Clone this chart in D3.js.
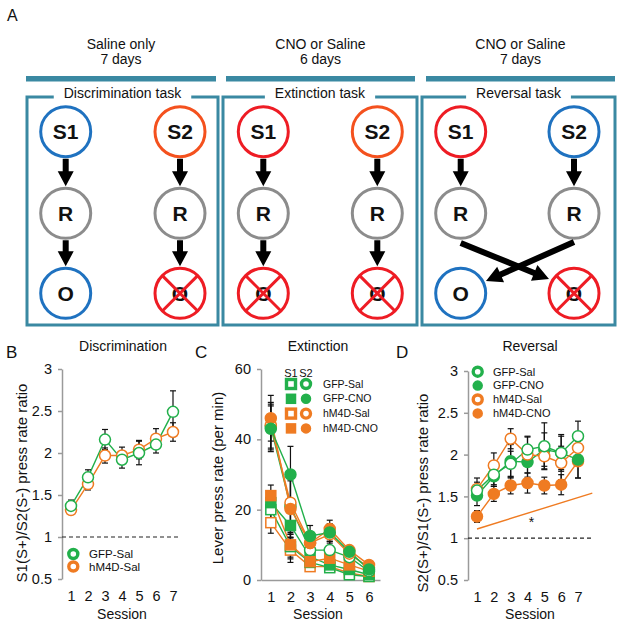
<!DOCTYPE html>
<html lang="en">
<head>
<meta charset="UTF-8">
<title>Discrimination / Extinction / Reversal</title>
<script src="https://d3js.org/d3.v7.min.js"></script>
<style>
  body { margin: 0; background: #fff; }
  text { font-family: "Liberation Sans", Arial, sans-serif; fill: #111; }
</style>
</head>
<body>
<script>
// ---- panel A text ----
const phaseHeaders = [["Saline only", "7 days"], ["CNO or Saline", "6 days"], ["CNO or Saline", "7 days"]];
const taskNames = ["Discrimination task", "Extinction task", "Reversal task"];
const stimColors = [["#1f72c0", "#f4511e"], ["#ee1c24", "#f4511e"], ["#ee1c24", "#1f72c0"]];
// outcome per column: "O" = rewarded (blue), "X" = no outcome
const outcomes = [["O", "X"], ["X", "X"], ["O", "X"]];

// ---- panel B ----
const sessionsB = [1, 2, 3, 4, 5, 6, 7];
const bGfpSal = [1.37, 1.71, 2.16, 1.92, 2.00, 2.10, 2.49];
const bGfpSalErr = [0.07, 0.09, 0.12, 0.10, 0.14, 0.10, 0.25];
const bHm4dSal = [1.32, 1.63, 1.97, 1.97, 2.04, 2.17, 2.25];
const bHm4dSalErr = [0.04, 0.07, 0.09, 0.10, 0.11, 0.12, 0.11];
const ticksB = [0.5, 1, 1.5, 2, 2.5, 3];

// ---- panel C ----
const sessionsC = [1, 2, 3, 4, 5, 6];
const cGfpSalS1 = [20.0, 9.5, 5.0, 3.5, 1.5, 1.0];
const cGfpSalS2 = [43.5, 21.0, 8.5, 8.5, 6.5, 2.5];
const cGfpCnoS1 = [22.0, 15.5, 6.6, 4.3, 3.0, 1.5];
const cGfpCnoS2 = [43.0, 30.0, 12.5, 13.5, 8.0, 3.0];
const cHm4dSalS1 = [16.3, 8.5, 3.8, 3.8, 2.0, 1.0];
const cHm4dSalS2 = [44.0, 22.0, 10.5, 13.0, 7.5, 3.5];
const cHm4dCnoS1 = [24.0, 10.0, 5.2, 6.2, 4.3, 2.5];
const cHm4dCnoS2 = [46.0, 20.2, 10.5, 14.5, 8.5, 4.3];
const cErrS1 = [3.0, 3.5, 1.0, 1.0, 0.8, 0.5];
const cErrS2 = [6.5, 8.0, 3.0, 2.5, 1.0, 0.8];
const ticksC = [0, 20, 40, 60];

// ---- panel D ----
const sessionsD = [1, 2, 3, 4, 5, 6, 7];
const dGfpSal = [1.57, 1.76, 1.89, 2.06, 2.10, 2.02, 2.22];
const dGfpSalErr = [0.10, 0.12, 0.15, 0.15, 0.28, 0.20, 0.18];
const dGfpCno = [1.51, 1.74, 1.92, 1.91, 2.06, 2.02, 1.94];
const dGfpCnoErr = [0.12, 0.12, 0.20, 0.18, 0.20, 0.22, 0.22];
const dHm4dSal = [1.59, 1.87, 2.19, 2.00, 1.98, 1.90, 2.08];
const dHm4dSalErr = [0.13, 0.15, 0.12, 0.22, 0.15, 0.20, 0.15];
const dHm4dCno = [1.26, 1.53, 1.63, 1.66, 1.63, 1.64, 1.92];
const dHm4dCnoErr = [0.07, 0.09, 0.10, 0.12, 0.10, 0.12, 0.20];
const sigLine = [[1, 1.11], [7.85, 1.54]];

const green = "#22b04b", orange = "#ef7b22", teal = "#3a89a2";

const svg = d3.select("body").append("svg")
    .attr("width", 624).attr("height", 627);
svg.append("rect").attr("width", 624).attr("height", 627).attr("fill", "#fff");

// ================= Panel A =================
const gA = svg.append("g");
gA.append("text").attr("x", 7).attr("y", 21).attr("font-size", 16).text("A");

const boxes = [[27, 218], [223, 417], [422, 615]];
const bars = [[26, 216], [226, 415], [426, 615]];
const cols = [[65.7, 180], [263.3, 377.3], [460.7, 574]];
const rowY = [131.7, 213.3, 293.3];
const R = 25;

function arrow(g, x1, y1, x2, y2, sw, hl, hw) {
    const dx = x2 - x1, dy = y2 - y1, len = Math.hypot(dx, dy);
    const ux = dx / len, uy = dy / len, px = -uy, py = ux;
    const bx = x2 - ux * hl, by = y2 - uy * hl;
    const pts = [
        [x1 + px * sw / 2, y1 + py * sw / 2],
        [bx + px * sw / 2, by + py * sw / 2],
        [bx + px * hw / 2, by + py * hw / 2],
        [x2, y2],
        [bx - px * hw / 2, by - py * hw / 2],
        [bx - px * sw / 2, by - py * sw / 2],
        [x1 - px * sw / 2, y1 - py * sw / 2]
    ];
    g.append("polygon").attr("points", pts.map(p => p.join(",")).join(" ")).attr("fill", "#000");
}

function node(g, cx, cy, color, label) {
    g.append("circle").attr("cx", cx).attr("cy", cy).attr("r", R)
        .attr("fill", "#fff").attr("stroke", color).attr("stroke-width", 3);
    g.append("text").attr("x", cx).attr("y", cy).attr("dy", "0.36em")
        .attr("text-anchor", "middle").attr("font-size", 21).attr("font-weight", "bold")
        .text(label);
}

function crossed(g, cx, cy) {
    node(g, cx, cy, "#ee1c24", "O");
    const d = R * 0.707;
    [[-d, -d, d, d], [-d, d, d, -d]].forEach(l => {
        g.append("line").attr("x1", cx + l[0]).attr("y1", cy + l[1])
            .attr("x2", cx + l[2]).attr("y2", cy + l[3])
            .attr("stroke", "#ee1c24").attr("stroke-width", 3);
    });
}

phaseHeaders.forEach((h, i) => {
    const mid = (bars[i][0] + bars[i][1]) / 2;
    gA.append("text").attr("x", mid).attr("y", 49).attr("text-anchor", "middle")
        .attr("font-size", 14).text(h[0]);
    gA.append("text").attr("x", mid).attr("y", 64).attr("text-anchor", "middle")
        .attr("font-size", 14).text(h[1]);
    gA.append("rect").attr("x", bars[i][0]).attr("y", 76)
        .attr("width", bars[i][1] - bars[i][0]).attr("height", 5.5).attr("fill", teal);

    const [x0, x1] = boxes[i];
    const bmid = (x0 + x1) / 2;
    const t = gA.append("text").attr("x", bmid).attr("y", 97.5).attr("text-anchor", "middle")
        .attr("font-size", 14).text(taskNames[i]);
    const tw = t.node().getComputedTextLength();
    const gl = bmid - tw / 2 - 10, gr = bmid + tw / 2 + 10;
    gA.append("path")
        .attr("d", `M${gl},97 H${x0} V325 H${x1} V97 H${gr}`)
        .attr("fill", "none").attr("stroke", teal).attr("stroke-width", 3);

    const g = gA.append("g");
    cols[i].forEach((cx, j) => {
        node(g, cx, rowY[0], stimColors[i][j], "S" + (j + 1));
        node(g, cx, rowY[1], "#8c8c8c", "R");
        arrow(g, cx, rowY[0] + R + 2, cx, rowY[1] - R - 2, 6, 15, 16);
        if (outcomes[i][j] === "O") node(g, cx, rowY[2], "#1f72c0", "O");
        else crossed(g, cx, rowY[2]);
        if (i < 2) arrow(g, cx, rowY[1] + R + 2, cx, rowY[2] - R - 2, 6, 15, 16);
    });
    if (i === 2) {
        arrow(g, cols[2][0], 243, 549, 279, 6, 16, 17);
        arrow(g, cols[2][1], 242, 486, 281, 6, 16, 17);
    }
});

// ================= helpers for plots =================
function yAxis(g, y, x0, ticks, fmt) {
    const ax = g.append("g").attr("transform", `translate(${x0},0)`)
        .call(d3.axisLeft(y).tickValues(ticks).tickSize(4).tickSizeOuter(0)
            .tickPadding(6).tickFormat(fmt));
    ax.select(".domain").attr("stroke", "#9a9a9a").attr("stroke-width", 1.5);
    ax.selectAll(".tick line").attr("stroke", "#9a9a9a").attr("stroke-width", 1.5);
    ax.selectAll("text").attr("font-size", 14.5).attr("fill", "#111")
        .attr("font-family", "Liberation Sans, Arial, sans-serif");
}
function xAxis(g, x, sessions, yPos, withLine) {
    const ax = g.append("g").attr("transform", `translate(0,${yPos})`)
        .call(d3.axisBottom(x).tickValues(sessions).tickSize(0).tickPadding(12)
            .tickFormat(d3.format("d")));
    if (withLine) ax.select(".domain").attr("stroke", "#9a9a9a").attr("stroke-width", 1.5);
    else ax.select(".domain").remove();
    ax.selectAll("text").attr("font-size", 14.5).attr("fill", "#111")
        .attr("font-family", "Liberation Sans, Arial, sans-serif");
}
function label(g, txt, x, y, size, rot) {
    const t = g.append("text").attr("text-anchor", "middle").attr("font-size", size).text(txt);
    if (rot) t.attr("transform", `translate(${x},${y}) rotate(-90)`).attr("dy", "0.35em");
    else t.attr("x", x).attr("y", y);
}
function series(gl, gm, x, y, xs, vals, errs, color, shape, filled) {
    const pts = xs.map((s, i) => [s, vals[i], errs[i]]);
    gl.append("path").datum(pts)
        .attr("d", d3.line().x(d => x(d[0])).y(d => y(d[1])))
        .attr("fill", "none").attr("stroke", color).attr("stroke-width", 1.4);
    pts.forEach(d => {
        const cx = x(d[0]), y1 = y(d[1] + d[2]), y2 = y(Math.max(d[1] - d[2], y.domain()[0]));
        gl.append("line").attr("x1", cx).attr("x2", cx).attr("y1", y1).attr("y2", y2)
            .attr("stroke", "#111").attr("stroke-width", 1.2);
        [y1, y2].forEach(yy => gl.append("line").attr("x1", cx - 3).attr("x2", cx + 3)
            .attr("y1", yy).attr("y2", yy).attr("stroke", "#111").attr("stroke-width", 1.2));
    });
    pts.forEach(d => {
        const cx = x(d[0]), cy = y(d[1]);
        const m = shape === "square"
            ? gm.append("rect").attr("x", cx - 5).attr("y", cy - 5).attr("width", 10).attr("height", 10)
            : gm.append("circle").attr("cx", cx).attr("cy", cy).attr("r", 5.5);
        m.attr("fill", filled ? color : "#fff").attr("stroke", color).attr("stroke-width", 1.5);
    });
}
function legendMark(g, cx, cy, color, shape, filled) {
    const m = shape === "square"
        ? g.append("rect").attr("x", cx - 4.5).attr("y", cy - 4.5).attr("width", 9).attr("height", 9)
        : g.append("circle").attr("cx", cx).attr("cy", cy).attr("r", 4.5);
    if (filled) m.attr("fill", color).attr("stroke", color).attr("stroke-width", 1.5);
    else m.attr("fill", "#fff").attr("stroke", color).attr("stroke-width", 3.4);
}

// ================= Panel B =================
const gB = svg.append("g");
const xB = d3.scaleLinear().domain([1, 7]).range([71, 173]);
const yB = d3.scaleLinear().domain([0.5, 3]).range([579, 369]);
gB.append("text").attr("x", 6).attr("y", 358).attr("font-size", 17).text("B");
label(gB, "Discrimination", 123, 351, 14);
yAxis(gB, yB, 62, ticksB, d => d);
xAxis(gB, xB, sessionsB, 579, false);
label(gB, "Session", 122, 619, 14);
label(gB, "S1(S+)/S2(S-) press rate ratio", 22, 483, 15, true);
gB.append("line").attr("x1", 62).attr("x2", 178).attr("y1", yB(1)).attr("y2", yB(1))
    .attr("stroke", "#222").attr("stroke-width", 1.2).attr("stroke-dasharray", "4,3");
const gBl = gB.append("g"), gBm = gB.append("g");
series(gBl, gBm, xB, yB, sessionsB, bHm4dSal, bHm4dSalErr, orange, "circle", false);
series(gBl, gBm, xB, yB, sessionsB, bGfpSal, bGfpSalErr, green, "circle", false);
[["GFP-Sal", green], ["hM4D-Sal", orange]].forEach((l, i) => {
    legendMark(gB, 73.3, 554 + i * 12.5, l[1], "circle", false);
    gB.append("text").attr("x", 89).attr("y", 554 + i * 12.5).attr("dy", "0.35em")
        .attr("font-size", 11.5).text(l[0]);
});

// ================= Panel C =================
const gC = svg.append("g");
const xC = d3.scaleLinear().domain([0.5, 6.56]).range([261, 380]);
const yC = d3.scaleLinear().domain([0, 60]).range([580, 369]);
gC.append("text").attr("x", 195).attr("y", 358).attr("font-size", 17).text("C");
label(gC, "Extinction", 318, 351, 14);
yAxis(gC, yC, 261, ticksC, d => d);
xAxis(gC, xC, sessionsC, 580, true);
label(gC, "Session", 318, 619, 14);
label(gC, "Lever press rate (per min)", 218, 478, 15, true);
const gCl = gC.append("g"), gCm = gC.append("g");
const cSeries = [
    [cHm4dSalS1, orange, "square", false, cErrS1], [cGfpSalS1, green, "square", false, cErrS1],
    [cGfpCnoS1, green, "square", true, cErrS1], [cHm4dCnoS1, orange, "square", true, cErrS1],
    [cGfpSalS2, green, "circle", false, cErrS2], [cHm4dSalS2, orange, "circle", false, cErrS2],
    [cHm4dCnoS2, orange, "circle", true, cErrS2], [cGfpCnoS2, green, "circle", true, cErrS2]
];
cSeries.forEach(s => series(gCl, gCm, xC, yC, sessionsC, s[0], s[4], s[1], s[2], s[3]));
gC.append("text").attr("x", 291).attr("y", 377).attr("text-anchor", "middle")
    .attr("font-size", 11).text("S1");
gC.append("text").attr("x", 306).attr("y", 377).attr("text-anchor", "middle")
    .attr("font-size", 11).text("S2");
[["GFP-Sal", green, false], ["GFP-CNO", green, true], ["hM4D-Sal", orange, false], ["hM4D-CNO", orange, true]]
    .forEach((l, i) => {
        const yy = 384 + i * 14.8;
        legendMark(gC, 291, yy, l[1], "square", l[2]);
        legendMark(gC, 306, yy, l[1], "circle", l[2]);
        gC.append("text").attr("x", 323).attr("y", yy).attr("dy", "0.35em")
            .attr("font-size", 10.5).text(l[0]);
    });

// ================= Panel D =================
const gD = svg.append("g");
const xD = d3.scaleLinear().domain([1, 7]).range([477, 578]);
const yD = d3.scaleLinear().domain([0.5, 3]).range([580, 371]);
gD.append("text").attr("x", 396).attr("y", 358).attr("font-size", 17).text("D");
label(gD, "Reversal", 530, 351, 14);
yAxis(gD, yD, 468, ticksB, d => d);
xAxis(gD, xD, sessionsD, 580, false);
label(gD, "Session", 530, 619, 14);
label(gD, "S2(S+)/S1(S-) press rate ratio", 423, 493, 15, true);
gD.append("line").attr("x1", 468).attr("x2", 593).attr("y1", yD(1)).attr("y2", yD(1))
    .attr("stroke", "#222").attr("stroke-width", 1.2).attr("stroke-dasharray", "4,3");
gD.append("path").datum(sigLine)
    .attr("d", d3.line().x(d => xD(d[0])).y(d => yD(d[1])))
    .attr("stroke", orange).attr("stroke-width", 1.4).attr("fill", "none");
gD.append("text").attr("x", 531.5).attr("y", 527).attr("text-anchor", "middle")
    .attr("font-size", 14).text("*");
const gDl = gD.append("g"), gDm = gD.append("g");
series(gDl, gDm, xD, yD, sessionsD, dHm4dCno, dHm4dCnoErr, orange, "circle", true);
series(gDl, gDm, xD, yD, sessionsD, dGfpCno, dGfpCnoErr, green, "circle", true);
series(gDl, gDm, xD, yD, sessionsD, dHm4dSal, dHm4dSalErr, orange, "circle", false);
series(gDl, gDm, xD, yD, sessionsD, dGfpSal, dGfpSalErr, green, "circle", false);
[["GFP-Sal", green, false], ["GFP-CNO", green, true], ["hM4D-Sal", orange, false], ["hM4D-CNO", orange, true]]
    .forEach((l, i) => {
        const yy = 371.7 + i * 13.9;
        legendMark(gD, 477.7, yy, l[1], "circle", l[2]);
        gD.append("text").attr("x", 493).attr("y", yy).attr("dy", "0.35em")
            .attr("font-size", 11).text(l[0]);
    });
</script>
</body>
</html>
